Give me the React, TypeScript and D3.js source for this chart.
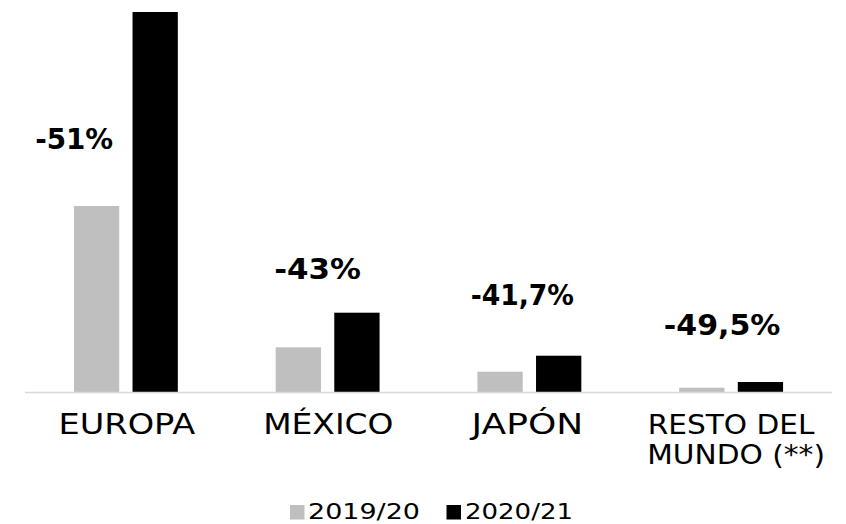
import React from "react";
import * as d3 from "d3";

const categories = ["EUROPA", "MÉXICO", "JAPÓN", "RESTO DEL MUNDO (**)"];
const categoryLines = [["EUROPA"], ["MÉXICO"], ["JAPÓN"], ["RESTO DEL", "MUNDO (**)"]];
const series = ["2019/20", "2020/21"];
const values2019 = [489.5, 117.6, 53.4, 11.3];
const values2020 = [1000, 208.7, 95.5, 26.3];
const changeLabels = ["-51%", "-43%", "-41,7%", "-49,5%"];

// layout (pixel annotations)
const W = 846;
const H = 524;
const FONT = "'DejaVu Sans', sans-serif";
const labelDX = [-51.7, -10, -7, -9];
const labelY = [149, 279.3, 305, 335];
const labelW = [78, 86.7, 103.3, 116.7];
const catW = [[136.7], [130.4], [111.6], [166.7, 177.7]];
const catDX = [1, 0.7, -2, 0];
const colors = ["#bfbfbf", "#000000"];

export default function App() {
  const x0 = d3.scaleBand<string>().domain(categories).range([25, 832]).padding(0);
  const x1 = d3
    .scaleBand<string>()
    .domain(series)
    .range([0, x0.bandwidth()])
    .paddingInner(0.227)
    .paddingOuter(0.835);
  const y = d3.scaleLinear().domain([0, 1000]).range([392, 12]);
  const vals = [values2019, values2020];
  const baseY = y(0);

  const legendItems = [
    { sq: 290, tx: 308, tw: 112 },
    { sq: 446.5, tx: 465, tw: 108 },
  ];

  return (
    <svg
      width={W}
      height={H}
      style={{ position: "absolute", left: 0, top: 0, background: "#fff" }}
      fontFamily={FONT}
    >
      <rect width={W} height={H} fill="#fff" />
      {categories.map((c, i) =>
        series.map((s, j) => {
          const v = vals[j][i];
          return (
            <rect
              key={c + s}
              x={(x0(c) ?? 0) + (x1(s) ?? 0)}
              y={y(v)}
              width={x1.bandwidth()}
              height={baseY - y(v)}
              fill={colors[j]}
            />
          );
        })
      )}
      <line x1={25} x2={832} y1={baseY + 0.5} y2={baseY + 0.5} stroke="#d9d9d9" strokeWidth={1.5} />
      {categories.map((c, i) => {
        const cx = (x0(c) ?? 0) + x0.bandwidth() / 2;
        return (
          <text
            key={"lab" + c}
            x={cx + labelDX[i]}
            y={labelY[i]}
            textAnchor="middle"
            fontSize={29}
            fontWeight="bold"
            fill="#000"
            textLength={labelW[i]}
            lengthAdjust="spacingAndGlyphs"
          >
            {changeLabels[i]}
          </text>
        );
      })}
      {categories.map((c, i) => {
        const cx = (x0(c) ?? 0) + x0.bandwidth() / 2 + catDX[i];
        const multi = categoryLines[i].length > 1;
        return (
          <text key={"cat" + c} textAnchor="middle" fontSize={multi ? 26 : 29} fill="#000">
            {categoryLines[i].map((ln, k) => (
              <tspan
                key={k}
                x={cx + (k === 1 ? 5 : 0)}
                y={433.8 + k * 30.4}
                textLength={catW[i][k]}
                lengthAdjust="spacingAndGlyphs"
              >
                {ln}
              </tspan>
            ))}
          </text>
        );
      })}
      {series.map((s, j) => (
        <g key={"leg" + s}>
          <rect x={legendItems[j].sq} y={505} width={14.5} height={14.5} fill={colors[j]} />
          <text
            x={legendItems[j].tx}
            y={519}
            fontSize={21.5}
            fill="#000"
            textLength={legendItems[j].tw}
            lengthAdjust="spacingAndGlyphs"
          >
            {s}
          </text>
        </g>
      ))}
    </svg>
  );
}
